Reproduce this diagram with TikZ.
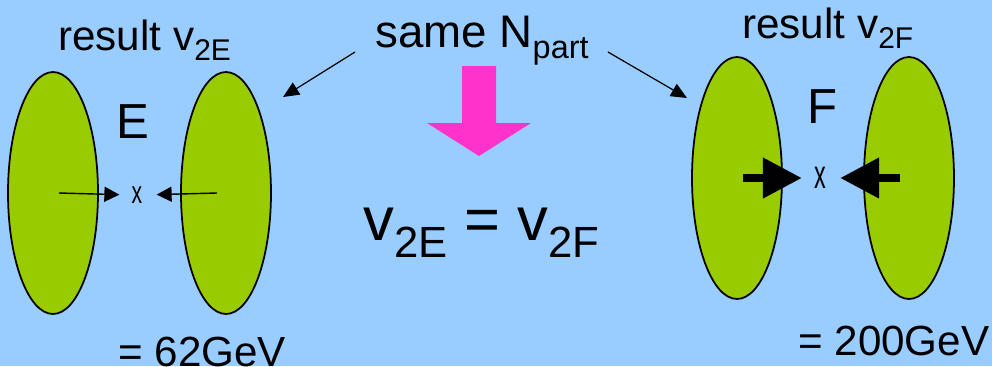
\documentclass[tikz,border=0pt]{standalone}
\usepackage{fontspec}
\setmainfont{Liberation Sans}
\usetikzlibrary{arrows.meta,positioning,calc,shapes.geometric}
\definecolor{sky}{HTML}{99CCFF}
\definecolor{lime}{HTML}{99CC00}
\definecolor{pink}{HTML}{FF33CC}
\newcommand{\low}[2][0.25]{\raisebox{-#1em}{\scalebox{0.71}{#2}}}
\tikzset{
  nucleus/.style={ellipse,draw=black,line width=1pt,fill=lime,minimum width=1.8cm,minimum height=4.84cm,inner sep=0pt},
  lbl/.style={inner sep=0pt,anchor=base west,text=black,font=\fontsize{#1}{#1}\selectfont},
  cross/.style={inner sep=0pt,font=\fontsize{#1}{#1}\selectfont},
  pointer/.style={-{Triangle[length=0.32cm,width=0.28cm]},line width=0.7pt},
  push/.style={-{Triangle[length=0.3cm,width=0.3cm]},line width=0.8pt},
  shove/.style={-{Triangle[length=0.78cm,width=0.78cm]},line width=4.5pt},
}
\begin{document}
\begin{tikzpicture}[x=0.02cm,y=-0.02cm]
  \fill[sky] (0,0) rectangle (992,366);
  \useasboundingbox (0,0) rectangle (992,366);
  % lower energy pair
  \node[nucleus] (E1) at (53,193) {};
  \node[nucleus] (E2) at (226,193) {};
  \node[cross=18] (xE) at (137,195) {\scalebox{0.67}[1]{x}};
  \node[lbl=28] (labE) at (116,138) {E};
  \node[lbl=24] (resE) at (58,50) {result v\low{2E}};
  \node[lbl=24] (eE) at (118,366) {= 62GeV};
  \draw[push,shorten >=0.24cm] ([xshift=0.12cm]E1.center) -- (xE.west);
  \draw[push,shorten >=0.28cm] ([xshift=-0.18cm]E2.center) -- (xE.east);
  % higher energy pair
  \node[nucleus] (F1) at (737,178) {};
  \node[nucleus] (F2) at (909,178) {};
  \node[cross=23] (xF) at (820,178) {\scalebox{0.58}[1]{x}};
  \node[lbl=28] (labF) at (807,123) {F};
  \node[lbl=24] (resF) at (742,38) {result v\low{2F}};
  \node[lbl=24] (eF) at (798,355) {= 200GeV};
  \draw[shove,shorten >=0.24cm] ([xshift=0.12cm]F1.center) -- (xF.west);
  \draw[shove,shorten >=0.28cm] ([xshift=-0.18cm]F2.center) -- (xF.east);
  % middle
  \node[lbl=26] (same) at (375,47) {same N\low{part}};
  \coordinate (tipE) at (283,97);
  \coordinate (tipF) at (687,98);
  \draw[pointer] ($(same.base west)+(-20,5)$) -- (tipE);
  \draw[pointer] ($(same.base east)+(19,5)$) -- (tipF);
  \fill[pink] (462,66) -- (496,66) -- (496,123) -- (531,123) -- (479,156) -- (427,123) -- (462,123) -- cycle;
  \node[lbl=35] (eq) at (363,240) {v\low[0.28]{2E} = v\low[0.28]{2F}};
\end{tikzpicture}
\end{document}
